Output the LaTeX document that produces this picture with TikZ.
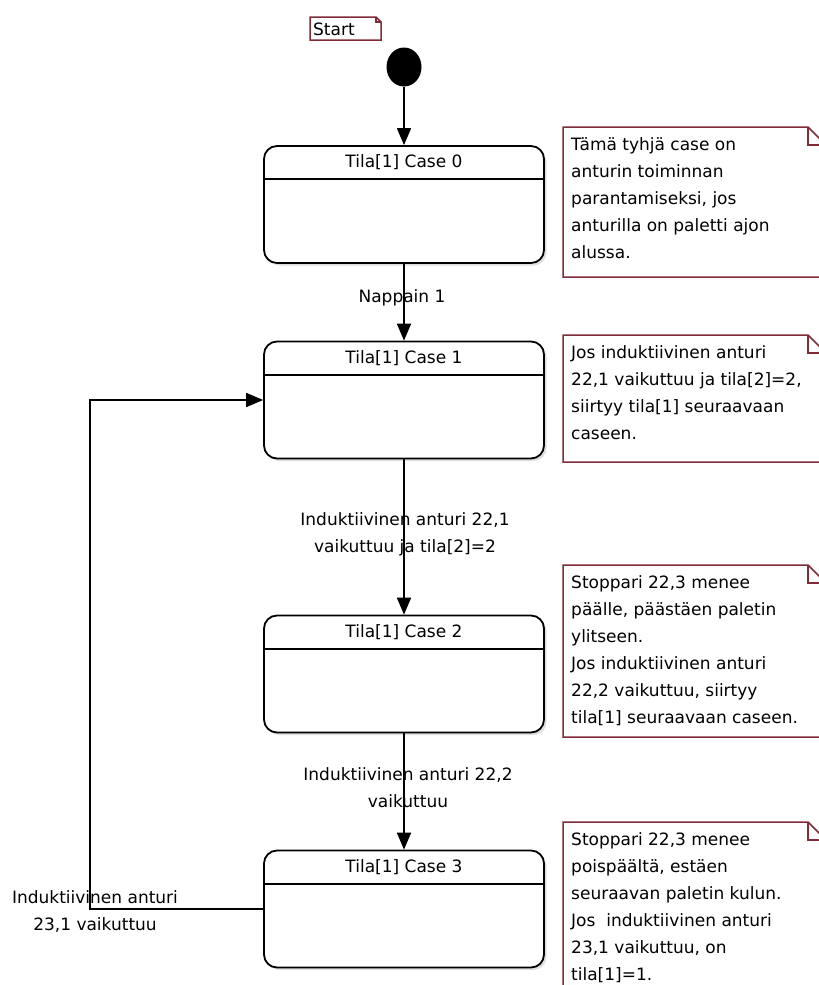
\documentclass[tikz,border=0pt]{standalone}
\usepackage{fontspec}
\setmainfont{DejaVu Sans}
\usetikzlibrary{arrows.meta,shapes.geometric,shadows,calc}
\definecolor{notered}{RGB}{128,44,56}
\tikzset{
  stbox/.style={draw=black, line width=1.8pt, rounded corners=13pt, fill=white,
    minimum width=280pt, minimum height=117pt, inner sep=0pt,
    drop shadow={shadow xshift=2.5pt, shadow yshift=-2.5pt, opacity=.25, fill=gray}},
  sttitle/.style={inner sep=0pt, font=\fontsize{17}{20}\selectfont},
  sepline/.style={line width=1.8pt},
  arr/.style={line width=1.8pt, -{Triangle[length=17pt,width=14pt]}},
  lbl/.style={inner sep=0pt, align=center, font=\fontsize{17}{27}\selectfont},
  notetxt/.style={inner sep=0pt, align=left, anchor=north west, font=\fontsize{17}{27}\selectfont},
  noteline/.style={draw=notered, line width=1.5pt, fill=white},
}
\begin{document}
\begin{tikzpicture}[x=1pt,y=-1pt]
\useasboundingbox[fill=white] (0,0) rectangle (819,985);

% start marker and its tag
\draw[noteline] (310,17) -- (376,17) -- (381,22) -- (381,40) -- (310,40) -- cycle;
\draw[draw=notered, line width=1.2pt] (376,17) -- (376,22) -- (381,22);
\node[inner sep=0pt, anchor=west, font=\fontsize{17}{20}\selectfont] (starttag) at (313,29) {Start};
\node[ellipse, fill=black, minimum width=35pt, minimum height=39pt, inner sep=0pt] (start) at (404,67) {};

% states: rounded box, title compartment, title
\foreach \n/\cy/\k in {c0/204.5/0, c1/400/1, c2/674/2, c3/909/3}{
  \node[stbox] (\n) at (404,\cy) {};
  \draw[sepline] ($(\n.north west)+(0,34)$) -- ($(\n.north east)+(0,34)$);
  \node[sttitle] (\n t) at ($(\n.north)+(0,17.5)$) {Tila[1] Case \k};
}

% transitions
\draw[arr] (start) -- (c0);
\draw[arr] (c0) -- (c1);
\draw[arr] (c1) -- (c2);
\draw[arr] (c2) -- (c3);
\coordinate (loop) at (90,909);
\draw[arr] (c3.west) -- (loop) |- (c1.west);

% transition labels
\node[lbl] (l1) at (402,298) {Nappain 1};
\node[lbl] (l2) at (405,534) {Induktiivinen anturi 22,1\\vaikuttuu ja tila[2]=2};
\node[lbl] (l3) at (408,788) {Induktiivinen anturi 22,2\\vaikuttuu};
\node[lbl] (l4) at (95,912) {Induktiivinen anturi\\23,1 vaikuttuu};

% notes with folded corner
\foreach \t/\b in {127/277, 335/462, 565/737, 822/1000}{
  \draw[noteline] (563,\t) -- (808,\t) -- (826,\t+18) -- (826,\b) -- (563,\b) -- cycle;
  \draw[draw=notered, line width=1.2pt] (808,\t) -- (808,\t+18) -- (826,\t+18);
}
\node[notetxt] (n1) at (571,137) {Tämä tyhjä case on\\anturin toiminnan\\parantamiseksi, jos\\anturilla on paletti ajon\\alussa.};
\node[notetxt] (n2) at (571,345) {Jos induktiivinen anturi\\22,1 vaikuttuu ja tila[2]=2,\\siirtyy tila[1] seuraavaan\\caseen.};
\node[notetxt] (n3) at (571,575) {Stoppari 22,3 menee\\päälle, päästäen paletin\\ylitseen.\\Jos induktiivinen anturi\\22,2 vaikuttuu, siirtyy\\tila[1] seuraavaan caseen.};
\node[notetxt] (n4) at (571,832) {Stoppari 22,3 menee\\poispäältä, estäen\\seuraavan paletin kulun.\\Jos~ induktiivinen anturi\\23,1 vaikuttuu, on\\tila[1]=1.};
\end{tikzpicture}
\end{document}
